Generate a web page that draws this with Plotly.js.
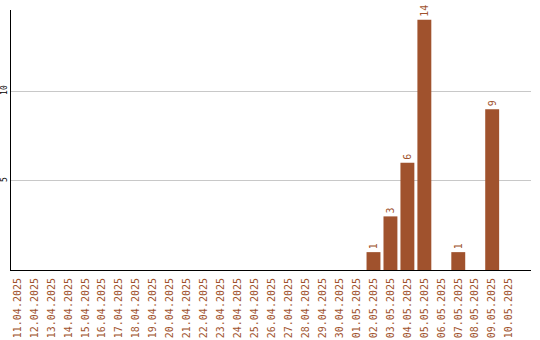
<!DOCTYPE html>
<html><head><meta charset="utf-8">
<script src="https://cdn.plot.ly/plotly-3.0.1.min.js"></script>
<style>html,body{margin:0;padding:0;background:#fff}#c{width:540px;height:340px}</style>
</head><body><div id="c"></div>
<script>
const dates = ["11.04.2025","12.04.2025","13.04.2025","14.04.2025","15.04.2025","16.04.2025","17.04.2025","18.04.2025","19.04.2025","20.04.2025","21.04.2025","22.04.2025","23.04.2025","24.04.2025","25.04.2025","26.04.2025","27.04.2025","28.04.2025","29.04.2025","30.04.2025","01.05.2025","02.05.2025","03.05.2025","04.05.2025","05.05.2025","06.05.2025","07.05.2025","08.05.2025","09.05.2025","10.05.2025"];
const counts = [0,0,0,0,0,0,0,0,0,0,0,0,0,0,0,0,0,0,0,0,0,1,3,6,14,0,1,0,9,0];
const labels = counts.map(v => v > 0 ? String(v) : "");
const col = "#A0522D";
const mono = "DejaVu Sans Mono, monospace";
Plotly.newPlot("c", [{
  type: "bar", x: dates, y: counts,
  marker: {color: col},
  width: 0.82,
  text: labels, textposition: "outside", textangle: -90,
  textfont: {family: mono, size: 10, color: col},
  cliponaxis: false, hoverinfo: "none"
}], {
  width: 540, height: 340,
  margin: {l: 10.5, r: 9, t: 10, b: 70, pad: 0},
  paper_bgcolor: "#fff", plot_bgcolor: "#fff",
  showlegend: false,
  xaxis: {
    type: "category", range: [-0.38, 30.29],
    tickangle: -90, tickfont: {family: mono, size: 10, color: col},
    showline: true, linecolor: "#000", linewidth: 1,
    showgrid: false, ticks: "", zeroline: false, ticklabelstandoff: 3
  },
  yaxis: {
    range: [0, 14.55], tickvals: [5, 10], ticktext: ["5", "10"],
    tickangle: -90, tickfont: {family: mono, size: 8, color: "#000"},
    showline: true, linecolor: "#000", linewidth: 1,
    showgrid: true, gridcolor: "#c8c8c8", gridwidth: 1,
    ticks: "", zeroline: false
  }
}, {staticPlot: true});
</script></body></html>
